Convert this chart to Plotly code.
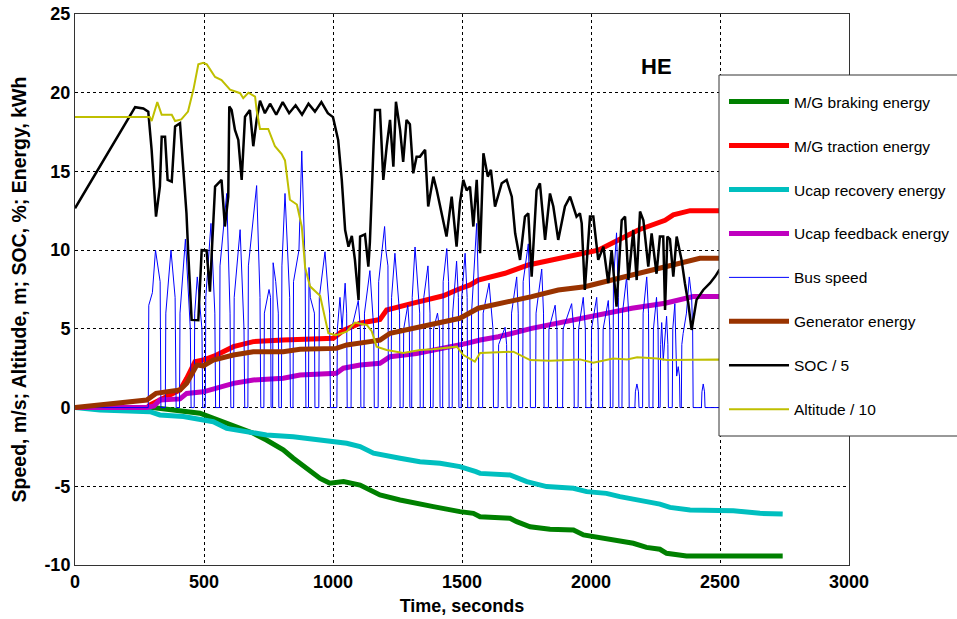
import plotly.graph_objects as go

# ---------------- data ----------------
alt_t = [0, 290, 297, 319, 336, 375, 388, 412, 438, 459, 478, 497, 511, 543, 568, 601, 640, 652, 672,
         698, 704, 717, 749, 775, 801, 814, 833, 860, 879, 892, 911, 950, 982, 1011, 1053, 1085, 1131,
         1150, 1169, 1208, 1272, 1337, 1388, 1480, 1504, 1550, 1570, 1699, 1764, 1841, 1957, 2008, 2086,
         2140, 2179, 2256, 2294, 2396, 2496, 2740]
alt_v = [18.45, 18.45, 18.2, 19.4, 18.6, 18.6, 18.2, 18.3, 18.8, 20.2, 21.8, 21.9, 21.8, 21.0, 20.8, 20.2,
         19.97, 19.65, 20.0, 19.75, 18.9, 17.7, 17.7, 16.6, 16.1, 15.7, 13.2, 12.9, 11.5, 8.9, 7.7, 7.1,
         4.73, 4.6, 4.82, 5.4, 5.25, 4.85, 3.87, 3.66, 3.47, 3.66, 3.7, 3.87, 3.35, 2.92, 3.47, 3.55, 3.02,
         2.98, 3.06, 2.85, 3.12, 3.06, 3.19, 3.12, 3.02, 3.06, 3.06, 3.0]

soc_t = [0, 233, 265, 284, 297, 314, 329, 336, 349, 359, 375, 388, 407, 417, 432, 439, 446, 452, 478, 484,
         491, 510, 517, 523, 530, 543, 568, 581, 594, 598, 607, 620, 633, 646, 659, 678, 691, 704, 717,
         736, 756, 780, 805, 830, 855, 880, 905, 930, 955, 980, 1000, 1020, 1034, 1047, 1060, 1073, 1085,
         1099, 1105, 1124, 1137, 1143, 1157, 1163, 1182, 1195, 1208, 1221, 1234, 1244, 1260, 1272, 1285,
         1298, 1311, 1324, 1337, 1357, 1369, 1389, 1402, 1428, 1440, 1460, 1479, 1492, 1505, 1518, 1531,
         1544, 1557, 1570, 1583, 1600, 1612, 1628, 1654, 1673, 1693, 1706, 1725, 1744, 1757, 1770, 1789,
         1802, 1822, 1841, 1854, 1873, 1899, 1919, 1944, 1957, 1964, 1976, 1996, 2009, 2028, 2048, 2067,
         2080, 2099, 2119, 2132, 2145, 2164, 2177, 2190, 2203, 2222, 2235, 2254, 2267, 2280, 2287, 2296,
         2306, 2319, 2332, 2351, 2364, 2377, 2390, 2409, 2435, 2461, 2481, 2497, 2600]
soc_v = [12.66, 19.08, 19.0, 18.8, 16.37, 12.13, 14.04, 17.2, 17.2, 14.46, 14.35, 17.85, 18.06, 15.94,
         12.36, 9.8, 7.47, 5.57, 5.55, 8.1, 10.0, 9.98, 8.55, 7.36, 9.8, 14.04, 14.46, 11.5, 13.4, 19.12,
         18.9, 17.64, 17.0, 14.46, 18.48, 18.9, 16.6, 18.27, 19.5, 18.7, 19.3, 18.6, 19.4, 18.7, 19.2, 18.6,
         19.3, 18.8, 19.4, 18.7, 18.45, 17.0, 14.46, 11.28, 10.22, 10.9, 9.38, 6.83, 10.86, 11.0, 8.95, 10.5,
         16.58, 18.9, 18.9, 14.46, 16.58, 18.27, 15.3, 19.43, 17.64, 15.6, 18.27, 18.0, 14.88, 15.94, 15.94,
         16.37, 12.77, 14.67, 13.82, 11.7, 10.86, 13.4, 10.22, 13.0, 14.46, 13.8, 14.04, 11.5, 14.46, 9.8,
         16.16, 14.67, 15.1, 12.77, 14.25, 14.46, 13.4, 11.07, 9.38, 12.13, 12.34, 8.32, 13.8, 14.25, 10.65,
         13.6, 12.77, 10.65, 12.77, 13.4, 12.13, 12.34, 11.7, 7.47, 12.13, 12.13, 9.38, 10.22, 7.9, 10.0,
         6.41, 11.9, 12.13, 8.1, 11.28, 8.1, 12.45, 11.9, 8.95, 11.07, 8.5, 10.86, 10.86, 6.2, 10.86, 10.7,
         8.32, 10.86, 9.38, 7.9, 6.63, 4.93, 6.84, 7.47, 7.9, 8.32, 8.74, 9.17, 10.5]

bus_t = [0,
         284, 286, 300, 312, 330, 333,
         350, 352, 372, 388, 392,
         405, 407, 428, 447, 450,
         462, 464, 474, 492, 495,
         505, 507, 527, 542, 545,
         560, 562, 588, 601, 604,
         615, 617, 640, 655, 658,
         670, 672, 704, 717, 720,
         732, 734, 752, 758, 760,
         766, 768, 778, 788, 790,
         800, 802, 814, 832, 835,
         845, 847, 868, 879, 892, 895,
         905, 907, 912, 928, 930,
         945, 947, 969, 987, 990,
         1015, 1017, 1027, 1035, 1047, 1053, 1055,
         1070, 1072, 1098, 1106, 1108,
         1120, 1122, 1143, 1158, 1160,
         1175, 1177, 1200, 1205, 1213, 1215,
         1225, 1227, 1240, 1258, 1260,
         1272, 1274, 1290, 1296, 1298,
         1305, 1307, 1318, 1336, 1338,
         1350, 1352, 1368, 1376, 1378,
         1388, 1390, 1405, 1413, 1415,
         1425, 1427, 1441, 1448, 1450,
         1462, 1464, 1479, 1486, 1488,
         1497, 1499, 1512, 1520, 1522,
         1535, 1537, 1557, 1563, 1565,
         1580, 1582, 1605, 1620, 1622,
         1640, 1642, 1667, 1673, 1675,
         1690, 1692, 1712, 1718, 1720,
         1735, 1737, 1757, 1763, 1765,
         1785, 1787, 1809, 1816, 1818,
         1835, 1837, 1861, 1868, 1870,
         1890, 1892, 1925, 1933, 1935,
         1950, 1952, 1970, 1978, 1980,
         2000, 2002, 2022, 2028, 2030,
         2045, 2047, 2067, 2073, 2075,
         2085, 2087, 2099, 2106, 2108,
         2120, 2122, 2138, 2146, 2148,
         2170, 2172, 2178, 2184, 2186,
         2200, 2202, 2216, 2223, 2225,
         2240, 2242, 2254, 2260, 2262,
         2268, 2270, 2274, 2280, 2293, 2298, 2300,
         2315, 2317, 2325, 2332, 2338, 2343, 2345,
         2350, 2352, 2357, 2370, 2381, 2390, 2394, 2396,
         2428, 2430, 2435, 2440, 2442,
         2740]
bus_v = [0,
         0, 6.5, 7.3, 10.0, 8.0, 0,
         0, 6.0, 10.0, 7.0, 0,
         0, 6.0, 10.7, 5.0, 0,
         0, 6.0, 8.3, 5.0, 0,
         0, 7.0, 11.7, 6.0, 0,
         0, 9.0, 13.6, 6.0, 0,
         0, 7.0, 11.3, 5.0, 0,
         0, 9.0, 14.1, 7.0, 0,
         0, 6.0, 7.5, 7.0, 0,
         0, 9.2, 8.0, 6.0, 0,
         0, 9.0, 13.6, 7.0, 0,
         0, 8.0, 10.0, 16.3, 9.0, 0,
         0, 8.9, 7.0, 6.0, 0,
         0, 7.0, 9.9, 6.0, 0,
         0, 5.0, 7.0, 5.0, 7.9, 6.0, 0,
         0, 5.0, 6.8, 5.0, 0,
         0, 6.0, 8.7, 5.0, 0,
         0, 8.0, 11.5, 10.0, 9.0, 0,
         0, 7.0, 9.8, 6.0, 0,
         0, 5.0, 6.5, 5.0, 0,
         0, 7.0, 10.2, 6.0, 0,
         0, 7.0, 9.0, 6.0, 0,
         0, 5.0, 6.0, 5.0, 0,
         0, 8.0, 10.1, 8.0, 0,
         0, 6.0, 9.3, 7.0, 0,
         0, 7.0, 9.8, 7.0, 0,
         0, 6.0, 11.7, 8.0, 0,
         0, 6.0, 7.9, 5.0, 0,
         0, 4.0, 5.1, 4.0, 0,
         0, 6.0, 8.3, 6.0, 0,
         0, 8.0, 10.4, 7.0, 0,
         0, 6.0, 8.8, 6.0, 0,
         0, 5.0, 6.5, 5.0, 0,
         0, 5.0, 6.6, 5.0, 0,
         0, 5.0, 7.0, 5.0, 0,
         0, 5.0, 7.0, 5.0, 0,
         0, 5.0, 6.8, 5.0, 0,
         0, 8.0, 11.1, 7.0, 0,
         0, 6.0, 8.3, 6.0, 0,
         0, 1.0, 1.5, 1.0, 0,
         0, 6.0, 8.3, 6.0, 0,
         0, 5.0, 7.0, 5.0, 0,
         0, 4.0, 5.4, 3.0, 5.8, 4.0, 0,
         0, 5.0, 6.6, 2.0, 2.6, 2.0, 0,
         0, 4.0, 4.7, 6.0, 8.3, 7.0, 5.0, 0,
         0, 1.0, 1.5, 1.0, 0,
         0]

brake_t = [0, 300, 484, 549, 691, 742, 807, 846, 898, 950, 988, 1041, 1105, 1143, 1182, 1260, 1337, 1389,
           1492, 1544, 1570, 1686, 1712, 1764, 1841, 1932, 1971, 2009, 2060, 2112, 2164, 2215, 2267, 2293,
           2370, 2474, 2743]
brake_v = [0, 0, -0.36, -0.78, -1.63, -2.06, -2.69, -3.22, -3.86, -4.5, -4.81, -4.7, -4.92, -5.24, -5.55,
           -5.87, -6.08, -6.29, -6.61, -6.72, -6.93, -7.03, -7.25, -7.57, -7.73, -7.78, -8.09, -8.2, -8.3,
           -8.52, -8.62, -8.88, -9.0, -9.26, -9.43, -9.43, -9.43]

trac_t = [0, 280, 291, 407, 433, 465, 497, 549, 614, 691, 807, 872, 1001, 1040, 1105, 1182, 1208, 1311,
          1428, 1479, 1531, 1563, 1667, 1757, 1845, 1938, 2028, 2106, 2183, 2287, 2319, 2384, 2496, 2740]
trac_v = [0, 0, 0.17, 1.12, 1.86, 2.92, 3.02, 3.34, 3.87, 4.19, 4.29, 4.33, 4.4, 4.9, 5.36, 5.6, 6.2, 6.63,
          7.1, 7.47, 7.79, 8.1, 8.53, 9.06, 9.38, 9.7, 10.0, 10.65, 11.28, 11.9, 12.24, 12.51, 12.51, 12.51]

recov_t = [0, 97, 291, 329, 420, 484, 536, 588, 665, 742, 846, 936, 1053, 1105, 1157, 1260, 1337, 1415,
           1492, 1554, 1570, 1686, 1751, 1828, 1932, 1983, 2060, 2112, 2190, 2267, 2306, 2384, 2552, 2655,
           2743]
recov_v = [0, -0.15, -0.26, -0.47, -0.57, -0.79, -0.9, -1.32, -1.53, -1.74, -1.85, -2.06, -2.27, -2.48, -2.9,
           -3.22, -3.44, -3.54, -3.75, -4.07, -4.18, -4.28, -4.7, -5.02, -5.13, -5.34, -5.45, -5.66, -5.87,
           -6.13, -6.34, -6.5, -6.56, -6.72, -6.76]

feed_t = [0, 278, 306, 329, 407, 433, 497, 549, 614, 691, 807, 872, 1013, 1040, 1105, 1182, 1221, 1324,
          1428, 1518, 1570, 1641, 1770, 1899, 2028, 2158, 2287, 2345, 2396, 2497, 2740]
feed_v = [0, 0, 0.1, 0.48, 0.55, 0.9, 1.0, 1.22, 1.54, 1.75, 1.86, 2.07, 2.18, 2.5, 2.7, 2.81, 3.23, 3.44,
          3.76, 4.08, 4.29, 4.5, 5.03, 5.46, 5.88, 6.31, 6.63, 6.84, 7.05, 7.05, 7.05]

gen_t = [0, 161, 278, 314, 407, 433, 472, 497, 536, 614, 691, 807, 872, 1013, 1053, 1143, 1182, 1221, 1311,
         1389, 1492, 1563, 1693, 1770, 1873, 1976, 2080, 2183, 2287, 2345, 2422, 2497, 2740]
gen_v = [0, 0.27, 0.48, 0.9, 1.12, 1.54, 2.7, 2.65, 3.02, 3.34, 3.55, 3.55, 3.7, 3.76, 3.98, 4.19, 4.29,
         4.72, 5.03, 5.36, 5.67, 6.31, 6.73, 7.05, 7.47, 7.68, 8.1, 8.53, 8.95, 9.17, 9.48, 9.48, 9.48]

x_ticks = [0, 500, 1000, 1500, 2000, 2500, 3000]
y_ticks = [-10, -5, 0, 5, 10, 15, 20, 25]

# ---------------- figure ----------------
FONT = "Arial, Liberation Sans, sans-serif"
series = [
    ("M/G braking energy", brake_t, brake_v, "rgb(0,128,0)", 5),
    ("M/G traction energy", trac_t, trac_v, "rgb(255,0,0)", 5),
    ("Ucap recovery energy", recov_t, recov_v, "rgb(0,191,191)", 5),
    ("Ucap feedback energy", feed_t, feed_v, "rgb(191,0,191)", 5),
    ("Bus speed", bus_t, bus_v, "rgb(0,0,255)", 1),
    ("Generator energy", gen_t, gen_v, "rgb(153,51,0)", 5),
    ("SOC / 5", soc_t, soc_v, "rgb(0,0,0)", 2.5),
    ("Altitude / 10", alt_t, alt_v, "rgb(191,191,0)", 2),
]

fig = go.Figure()
for i, (name, xs, ys, col, w) in enumerate(series):
    fig.add_trace(go.Scatter(x=xs, y=ys, mode="lines", name=name, legendgroup=f"g{i}",
                             line=dict(color=col, width=w)))

W, H = 957, 619
ml, mr, mt, mb = 75, 108, 14, 54
pw, ph = W - ml - mr, H - mt - mb

def px2x(px):
    return (px - ml) / pw

def py2y(py):
    return 1 - (py - mt) / ph

axis_common = dict(showgrid=True, gridcolor="black", gridwidth=1, griddash="3px,3px",
                   showline=True, linecolor="#333", linewidth=1, mirror=True, zeroline=False,
                   ticks="")

fig.update_xaxes(range=[0, 3000], tickvals=x_ticks, ticktext=[str(v) for v in x_ticks],
                 tickfont=dict(family=FONT, size=18, color="black", weight="bold"),
                 title=dict(text="<b>Time, seconds</b>", font=dict(family=FONT, size=18, color="black"),
                            standoff=8),
                 **axis_common)
fig.update_yaxes(range=[-10, 25], tickvals=y_ticks, ticktext=[str(v) for v in y_ticks],
                 tickfont=dict(family=FONT, size=18, color="black", weight="bold"),
                 title=dict(text="<b>Speed, m/s; Altitude, m; SOC, %; Energy, kWh</b>",
                            font=dict(family=FONT, size=19.5, color="black"), standoff=12),
                 **axis_common)

# legend panel (white box covering the plot's right part)
fig.add_shape(type="rect", xref="paper", yref="paper", x0=px2x(719), x1=px2x(990),
              y0=py2y(436), y1=py2y(75), fillcolor="white", line=dict(color="#333", width=1),
              layer="above")

fig.add_annotation(text="<b>HE</b>", xref="paper", yref="paper", x=px2x(656), y=py2y(66),
                   xanchor="center", yanchor="middle",
                   showarrow=False, font=dict(family=FONT, size=22, color="black"))

fig.update_layout(
    width=W, height=H,
    margin=dict(l=ml, r=mr, t=mt, b=mb, autoexpand=False),
    paper_bgcolor="white", plot_bgcolor="white",
    showlegend=True,
    legend=dict(x=px2x(724), y=py2y(85), xanchor="left", yanchor="top",
                bgcolor="rgba(0,0,0,0)", borderwidth=0,
                font=dict(family=FONT, size=15.5, color="black"),
                itemwidth=60, tracegroupgap=20.8, traceorder="grouped"),
)

fig.write_html("out.html", config={"displayModeBar": False},
               post_script="document.body.style.margin='0';")
